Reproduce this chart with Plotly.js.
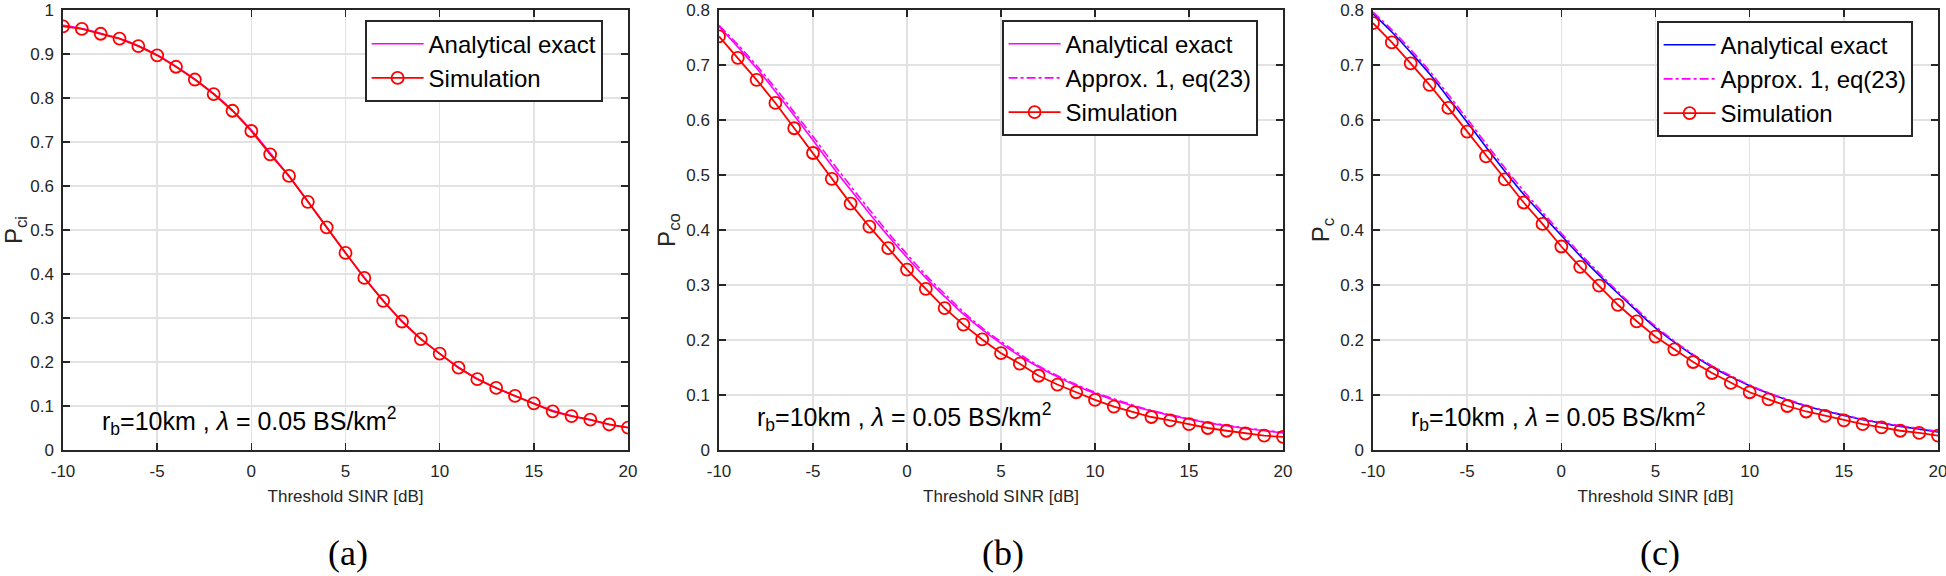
<!DOCTYPE html>
<html><head><meta charset="utf-8">
<script src="https://cdn.plot.ly/plotly-3.0.1.min.js"></script>
<style>html,body{margin:0;padding:0;background:#fff}#chart{width:1946px;height:576px}</style>
</head><body><div id="chart"></div>
<script>
// Threshold SINR [dB]
const sinrDb = [-10,-9,-8,-7,-6,-5,-4,-3,-2,-1,0,1,2,3,4,5,6,7,8,9,10,11,12,13,14,15,16,17,18,19,20];

// (a) P_ci
const exactA = [0.965,0.958,0.947,0.935,0.919,0.898,0.872,0.843,0.810,0.772,0.727,0.675,0.622,0.565,0.506,0.448,0.392,0.340,0.293,0.253,0.219,0.188,0.162,0.141,0.123,0.106,0.090,0.078,0.068,0.058,0.051];
const simA   = [0.963,0.957,0.946,0.935,0.918,0.897,0.871,0.842,0.809,0.771,0.725,0.672,0.623,0.564,0.506,0.448,0.391,0.339,0.292,0.252,0.219,0.187,0.161,0.141,0.123,0.106,0.088,0.077,0.069,0.058,0.051];

// (b) P_co
const exactB  = [0.770,0.733,0.694,0.652,0.608,0.563,0.517,0.473,0.430,0.389,0.350,0.313,0.279,0.247,0.219,0.194,0.171,0.151,0.133,0.117,0.103,0.091,0.080,0.071,0.063,0.056,0.049,0.044,0.039,0.035,0.031];
const approxB = [0.772,0.737,0.699,0.658,0.614,0.570,0.524,0.480,0.437,0.395,0.356,0.318,0.284,0.251,0.222,0.197,0.174,0.153,0.135,0.119,0.105,0.093,0.082,0.072,0.064,0.057,0.050,0.045,0.040,0.036,0.032];
const simB    = [0.752,0.713,0.673,0.631,0.585,0.540,0.493,0.448,0.406,0.367,0.328,0.293,0.258,0.228,0.201,0.176,0.157,0.135,0.119,0.105,0.091,0.079,0.069,0.060,0.054,0.047,0.040,0.035,0.030,0.026,0.024];

// (c) P_c
const exactC  = [0.793,0.760,0.723,0.684,0.640,0.596,0.551,0.507,0.465,0.427,0.390,0.353,0.318,0.285,0.253,0.222,0.196,0.172,0.151,0.133,0.117,0.103,0.091,0.080,0.071,0.063,0.055,0.049,0.043,0.038,0.033];
const approxC = [0.796,0.764,0.728,0.689,0.646,0.602,0.557,0.513,0.471,0.432,0.394,0.357,0.322,0.288,0.256,0.225,0.198,0.174,0.153,0.135,0.118,0.104,0.092,0.081,0.072,0.064,0.056,0.050,0.044,0.039,0.034];
const simC    = [0.776,0.741,0.703,0.664,0.622,0.579,0.534,0.492,0.450,0.411,0.370,0.333,0.299,0.264,0.234,0.206,0.183,0.160,0.140,0.122,0.105,0.092,0.080,0.070,0.062,0.054,0.047,0.041,0.035,0.031,0.026];

const xTicks = [-10,-5,0,5,10,15,20];
const yTicksA = [0,0.1,0.2,0.3,0.4,0.5,0.6,0.7,0.8,0.9,1];
const yTickTextA = ['0','0.1','0.2','0.3','0.4','0.5','0.6','0.7','0.8','0.9','1'];
const yTicksBC = [0,0.1,0.2,0.3,0.4,0.5,0.6,0.7,0.8];
const yTickTextBC = ['0','0.1','0.2','0.3','0.4','0.5','0.6','0.7','0.8'];

const legendNames = ['Analytical exact','Approx. 1, eq(23)','Simulation'];
const yTitles = ['P<sub>ci</sub>','P<sub>co</sub>','P<sub>c</sub>'];
const xTitle = 'Threshold SINR [dB]';
const noteText = 'r<sub>b</sub>=10km , <i>λ</i> = 0.05 BS/km<sup>2</sup>';
const panelLabels = ['(a)','(b)','(c)'];

const W = 1946;
const TOP = 10, BOTTOM = 450;
const RED = '#ff0000', MAG = '#ff00ff', BLUE = '#0000ff';
const FONT = 'Liberation Sans, Arial, sans-serif';

function simTrace(y, xa, ya, leg) {
  return {x: sinrDb, y: y, xaxis: xa, yaxis: ya, legend: leg, name: legendNames[2],
    mode: 'lines+markers', line: {color: RED, width: 1.8},
    marker: {symbol: 'circle-open', size: 12, color: RED, line: {width: 1.8}}};
}
function lineTrace(y, xa, ya, leg, name, color, dash) {
  return {x: sinrDb, y: y, xaxis: xa, yaxis: ya, legend: leg, name: name,
    mode: 'lines', line: {color: color, width: 1.6, dash: dash, shape: 'spline'}};
}

const data = [
  lineTrace(exactA, 'x', 'y', 'legend', legendNames[0], MAG, 'solid'),
  simTrace(simA, 'x', 'y', 'legend'),
  lineTrace(exactB, 'x2', 'y2', 'legend2', legendNames[0], MAG, 'solid'),
  lineTrace(approxB, 'x2', 'y2', 'legend2', legendNames[1], MAG, 'dashdot'),
  simTrace(simB, 'x2', 'y2', 'legend2'),
  lineTrace(exactC, 'x3', 'y3', 'legend3', legendNames[0], BLUE, 'solid'),
  lineTrace(approxC, 'x3', 'y3', 'legend3', legendNames[1], MAG, 'dashdot'),
  simTrace(simC, 'x3', 'y3', 'legend3')
];

const axisCommon = {
  showline: true, linecolor: '#262626', linewidth: 1.6, mirror: 'ticks',
  ticks: 'inside', ticklen: 7, tickwidth: 1.6, tickcolor: '#262626',
  showgrid: true, gridcolor: '#e2e2e2', gridwidth: 1.5, zeroline: false,
  ticklabeloverflow: 'allow',
  tickfont: {family: FONT, size: 17, color: '#262626'}
};
function xAxis(d, anchor) {
  return Object.assign({}, axisCommon, {domain: d, anchor: anchor, range: [-10, 20],
    tickmode: 'array', tickvals: xTicks, ticktext: xTicks.map(String), ticklabelstandoff: 5,
    title: {text: xTitle, font: {family: FONT, size: 17, color: '#262626'}, standoff: 10}});
}
function yAxis(anchor, range, tv, tt, title) {
  return Object.assign({}, axisCommon, {domain: [0, 1], anchor: anchor, range: range,
    tickmode: 'array', tickvals: tv, ticktext: tt, ticklabelstandoff: 4,
    title: {text: title, font: {family: FONT, size: 24, color: '#262626'}, standoff: 4}});
}

const legendCommon = {bgcolor: '#ffffff', bordercolor: '#262626', borderwidth: 1.6,
  font: {family: FONT, size: 24, color: '#000000'}, xanchor: 'left', yanchor: 'top',
  tracegroupgap: 0, itemwidth: 52};

const py = v => (BOTTOM - v) / (BOTTOM - TOP); // pixel row -> paper y

const noteFont = {family: FONT, size: 25, color: '#000'};
const labelFont = {family: 'Liberation Serif, serif', size: 36, color: '#000'};

const layout = {
  width: 1946, height: 576, paper_bgcolor: '#ffffff', plot_bgcolor: '#ffffff',
  margin: {l: 0, r: 0, t: TOP, b: 576 - BOTTOM},
  showlegend: true,
  xaxis: xAxis([63 / W, 628 / W], 'y'),
  xaxis2: xAxis([719 / W, 1283 / W], 'y2'),
  xaxis3: xAxis([1373 / W, 1938 / W], 'y3'),
  yaxis: yAxis('x', [0, 1], yTicksA, yTickTextA, yTitles[0]),
  yaxis2: yAxis('x2', [0, 0.8], yTicksBC, yTickTextBC, yTitles[1]),
  yaxis3: yAxis('x3', [0, 0.8], yTicksBC, yTickTextBC, yTitles[2]),
  legend: Object.assign({}, legendCommon, {x: 365 / W, y: py(20)}),
  legend2: Object.assign({}, legendCommon, {x: 1002 / W, y: py(20)}),
  legend3: Object.assign({}, legendCommon, {x: 1657 / W, y: py(21)}),
  annotations: [
    {text: noteText, xref: 'paper', yref: 'paper', x: 100 / W, y: py(421), xanchor: 'left', yanchor: 'middle', showarrow: false, font: noteFont},
    {text: noteText, xref: 'paper', yref: 'paper', x: 755 / W, y: py(417), xanchor: 'left', yanchor: 'middle', showarrow: false, font: noteFont},
    {text: noteText, xref: 'paper', yref: 'paper', x: 1409 / W, y: py(417), xanchor: 'left', yanchor: 'middle', showarrow: false, font: noteFont},
    {text: panelLabels[0], xref: 'paper', yref: 'paper', x: 348 / W, y: py(553), xanchor: 'center', yanchor: 'middle', showarrow: false, font: labelFont},
    {text: panelLabels[1], xref: 'paper', yref: 'paper', x: 1003 / W, y: py(553), xanchor: 'center', yanchor: 'middle', showarrow: false, font: labelFont},
    {text: panelLabels[2], xref: 'paper', yref: 'paper', x: 1660 / W, y: py(553), xanchor: 'center', yanchor: 'middle', showarrow: false, font: labelFont}
  ]
};

Plotly.newPlot('chart', data, layout, {displayModeBar: false, staticPlot: true});
</script>
</body></html>
